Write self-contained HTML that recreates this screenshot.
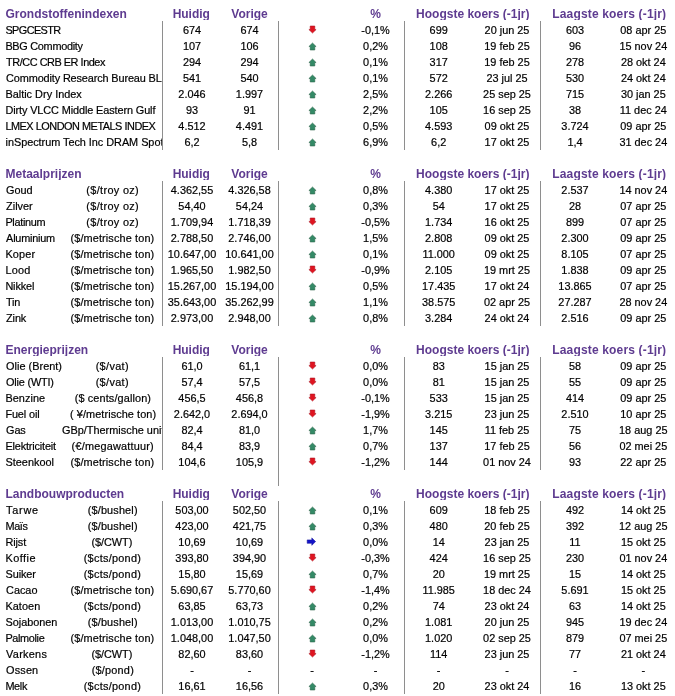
<!DOCTYPE html>
<html><head><meta charset="utf-8"><style>
html,body{margin:0;padding:0;background:#fff;}
body{width:675px;height:696px;position:relative;overflow:hidden;font-family:"Liberation Sans",sans-serif;}
.d,.h{position:absolute;white-space:nowrap;height:16px;line-height:16px;}
.d{font-size:10.9px;color:#000;-webkit-text-stroke:0.2px #000;margin-top:1px}
.h{font-size:12px;font-weight:bold;color:#5e3b90;margin-top:1px;height:14px;overflow:hidden}
.c{text-align:center}
.clip{position:absolute;left:0;width:162px;height:16px;overflow:hidden}
.vl{position:absolute;width:1px;background:#8e8e8e}
.ar{position:absolute}
#w{position:absolute;left:0;top:0;width:675px;height:696px;will-change:transform}
</style></head>
<body><div id="w">
<div class="h" style="left:5.5px;top:5px">Grondstoffenindexen</div>
<div class="h c" style="left:131.30px;top:5px;width:120px">Huidig</div>
<div class="h c" style="left:189.50px;top:5px;width:120px">Vorige</div>
<div class="h c" style="left:315.50px;top:5px;width:120px">%</div>
<div class="h c" style="left:392.80px;top:5px;width:160px">Hoogste koers (-1jr)</div>
<div class="h c" style="left:529.28px;top:5px;width:160px;letter-spacing:0.16px">Laagste koers (-1jr)</div>
<div class="clip" style="top:21px">
<div class="d" style="left:5.46px;top:0;letter-spacing:-0.598px">SPGCESTR</div>
</div>
<div class="d c" style="left:147.00px;top:21px;width:90px">674</div>
<div class="d c" style="left:204.50px;top:21px;width:90px">674</div>
<div class="d c" style="left:330.50px;top:21px;width:90px">-0,1%</div>
<div class="d c" style="left:393.70px;top:21px;width:90px">699</div>
<div class="d c" style="left:462.00px;top:21px;width:90px">20 jun 25</div>
<div class="d c" style="left:530.00px;top:21px;width:90px">603</div>
<div class="d c" style="left:598.30px;top:21px;width:90px">08 apr 25</div>
<svg class="ar" style="left:307.5px;top:25px" width="9" height="9" viewBox="0 0 9 9"><path d="M4.5 8 L8.1 4.6 L6.8 4.6 L6.8 1 L2.2 1 L2.2 4.6 L0.9 4.6 Z" fill="#e01420" stroke="#a8101e" stroke-width="0.55"/></svg>
<div class="clip" style="top:37px">
<div class="d" style="left:5.38px;top:0;letter-spacing:-0.286px">BBG Commodity</div>
</div>
<div class="d c" style="left:147.00px;top:37px;width:90px">107</div>
<div class="d c" style="left:204.50px;top:37px;width:90px">106</div>
<div class="d c" style="left:330.50px;top:37px;width:90px">0,2%</div>
<div class="d c" style="left:393.70px;top:37px;width:90px">108</div>
<div class="d c" style="left:462.00px;top:37px;width:90px">19 feb 25</div>
<div class="d c" style="left:530.00px;top:37px;width:90px">96</div>
<div class="d c" style="left:598.30px;top:37px;width:90px">15 nov 24</div>
<svg class="ar" style="left:307.5px;top:42px" width="9" height="9" viewBox="0 0 9 9"><path d="M4.5 1 L8.1 4.5 L6.8 4.5 L6.8 8 L2.2 8 L2.2 4.5 L0.9 4.5 Z" fill="#338a66" stroke="#2b6248" stroke-width="0.55"/></svg>
<div class="clip" style="top:53px">
<div class="d" style="left:6.10px;top:0;letter-spacing:-0.461px">TR/CC CRB ER Index</div>
</div>
<div class="d c" style="left:147.00px;top:53px;width:90px">294</div>
<div class="d c" style="left:204.50px;top:53px;width:90px">294</div>
<div class="d c" style="left:330.50px;top:53px;width:90px">0,1%</div>
<div class="d c" style="left:393.70px;top:53px;width:90px">317</div>
<div class="d c" style="left:462.00px;top:53px;width:90px">19 feb 25</div>
<div class="d c" style="left:530.00px;top:53px;width:90px">278</div>
<div class="d c" style="left:598.30px;top:53px;width:90px">28 okt 24</div>
<svg class="ar" style="left:307.5px;top:58px" width="9" height="9" viewBox="0 0 9 9"><path d="M4.5 1 L8.1 4.5 L6.8 4.5 L6.8 8 L2.2 8 L2.2 4.5 L0.9 4.5 Z" fill="#338a66" stroke="#2b6248" stroke-width="0.55"/></svg>
<div class="clip" style="top:69px">
<div class="d" style="left:6.10px;top:0;letter-spacing:-0.131px">Commodity Research Bureau BL</div>
</div>
<div class="d c" style="left:147.00px;top:69px;width:90px">541</div>
<div class="d c" style="left:204.50px;top:69px;width:90px">540</div>
<div class="d c" style="left:330.50px;top:69px;width:90px">0,1%</div>
<div class="d c" style="left:393.70px;top:69px;width:90px">572</div>
<div class="d c" style="left:462.00px;top:69px;width:90px">23 jul 25</div>
<div class="d c" style="left:530.00px;top:69px;width:90px">530</div>
<div class="d c" style="left:598.30px;top:69px;width:90px">24 okt 24</div>
<svg class="ar" style="left:307.5px;top:74px" width="9" height="9" viewBox="0 0 9 9"><path d="M4.5 1 L8.1 4.5 L6.8 4.5 L6.8 8 L2.2 8 L2.2 4.5 L0.9 4.5 Z" fill="#338a66" stroke="#2b6248" stroke-width="0.55"/></svg>
<div class="clip" style="top:85px">
<div class="d" style="left:5.38px;top:0;letter-spacing:0.012px">Baltic Dry Index</div>
</div>
<div class="d c" style="left:147.00px;top:85px;width:90px">2.046</div>
<div class="d c" style="left:204.50px;top:85px;width:90px">1.997</div>
<div class="d c" style="left:330.50px;top:85px;width:90px">2,5%</div>
<div class="d c" style="left:393.70px;top:85px;width:90px">2.266</div>
<div class="d c" style="left:462.00px;top:85px;width:90px">25 sep 25</div>
<div class="d c" style="left:530.00px;top:85px;width:90px">715</div>
<div class="d c" style="left:598.30px;top:85px;width:90px">30 jan 25</div>
<svg class="ar" style="left:307.5px;top:90px" width="9" height="9" viewBox="0 0 9 9"><path d="M4.5 1 L8.1 4.5 L6.8 4.5 L6.8 8 L2.2 8 L2.2 4.5 L0.9 4.5 Z" fill="#338a66" stroke="#2b6248" stroke-width="0.55"/></svg>
<div class="clip" style="top:101px">
<div class="d" style="left:5.38px;top:0;letter-spacing:-0.105px">Dirty VLCC Middle Eastern Gulf</div>
</div>
<div class="d c" style="left:147.00px;top:101px;width:90px">93</div>
<div class="d c" style="left:204.50px;top:101px;width:90px">91</div>
<div class="d c" style="left:330.50px;top:101px;width:90px">2,2%</div>
<div class="d c" style="left:393.70px;top:101px;width:90px">105</div>
<div class="d c" style="left:462.00px;top:101px;width:90px">16 sep 25</div>
<div class="d c" style="left:530.00px;top:101px;width:90px">38</div>
<div class="d c" style="left:598.30px;top:101px;width:90px">11 dec 24</div>
<svg class="ar" style="left:307.5px;top:106px" width="9" height="9" viewBox="0 0 9 9"><path d="M4.5 1 L8.1 4.5 L6.8 4.5 L6.8 8 L2.2 8 L2.2 4.5 L0.9 4.5 Z" fill="#338a66" stroke="#2b6248" stroke-width="0.55"/></svg>
<div class="clip" style="top:117px">
<div class="d" style="left:5.38px;top:0;letter-spacing:-0.474px">LMEX LONDON METALS INDEX</div>
</div>
<div class="d c" style="left:147.00px;top:117px;width:90px">4.512</div>
<div class="d c" style="left:204.50px;top:117px;width:90px">4.491</div>
<div class="d c" style="left:330.50px;top:117px;width:90px">0,5%</div>
<div class="d c" style="left:393.70px;top:117px;width:90px">4.593</div>
<div class="d c" style="left:462.00px;top:117px;width:90px">09 okt 25</div>
<div class="d c" style="left:530.00px;top:117px;width:90px">3.724</div>
<div class="d c" style="left:598.30px;top:117px;width:90px">09 apr 25</div>
<svg class="ar" style="left:307.5px;top:122px" width="9" height="9" viewBox="0 0 9 9"><path d="M4.5 1 L8.1 4.5 L6.8 4.5 L6.8 8 L2.2 8 L2.2 4.5 L0.9 4.5 Z" fill="#338a66" stroke="#2b6248" stroke-width="0.55"/></svg>
<div class="clip" style="top:133px">
<div class="d" style="left:5.54px;top:0;letter-spacing:-0.039px">inSpectrum Tech Inc DRAM Spot</div>
</div>
<div class="d c" style="left:147.00px;top:133px;width:90px">6,2</div>
<div class="d c" style="left:204.50px;top:133px;width:90px">5,8</div>
<div class="d c" style="left:330.50px;top:133px;width:90px">6,9%</div>
<div class="d c" style="left:393.70px;top:133px;width:90px">6,2</div>
<div class="d c" style="left:462.00px;top:133px;width:90px">17 okt 25</div>
<div class="d c" style="left:530.00px;top:133px;width:90px">1,4</div>
<div class="d c" style="left:598.30px;top:133px;width:90px">31 dec 24</div>
<svg class="ar" style="left:307.5px;top:138px" width="9" height="9" viewBox="0 0 9 9"><path d="M4.5 1 L8.1 4.5 L6.8 4.5 L6.8 8 L2.2 8 L2.2 4.5 L0.9 4.5 Z" fill="#338a66" stroke="#2b6248" stroke-width="0.55"/></svg>
<div class="vl" style="left:162px;top:21px;height:129px"></div>
<div class="vl" style="left:278px;top:21px;height:129px"></div>
<div class="vl" style="left:404px;top:21px;height:129px"></div>
<div class="vl" style="left:540px;top:21px;height:129px"></div>
<div class="h" style="left:5.5px;top:165px">Metaalprijzen</div>
<div class="h c" style="left:131.30px;top:165px;width:120px">Huidig</div>
<div class="h c" style="left:189.50px;top:165px;width:120px">Vorige</div>
<div class="h c" style="left:315.50px;top:165px;width:120px">%</div>
<div class="h c" style="left:392.80px;top:165px;width:160px">Hoogste koers (-1jr)</div>
<div class="h c" style="left:529.28px;top:165px;width:160px;letter-spacing:0.16px">Laagste koers (-1jr)</div>
<div class="clip" style="top:181px">
<div class="d" style="left:6.10px;top:0;letter-spacing:-0.100px">Goud</div>
<div class="d" style="left:86.36px;top:0;letter-spacing:0.334px">($/troy oz)</div>
</div>
<div class="d c" style="left:147.00px;top:181px;width:90px">4.362,55</div>
<div class="d c" style="left:204.50px;top:181px;width:90px">4.326,58</div>
<div class="d c" style="left:330.50px;top:181px;width:90px">0,8%</div>
<div class="d c" style="left:393.70px;top:181px;width:90px">4.380</div>
<div class="d c" style="left:462.00px;top:181px;width:90px">17 okt 25</div>
<div class="d c" style="left:530.00px;top:181px;width:90px">2.537</div>
<div class="d c" style="left:598.30px;top:181px;width:90px">14 nov 24</div>
<svg class="ar" style="left:307.5px;top:186px" width="9" height="9" viewBox="0 0 9 9"><path d="M4.5 1 L8.1 4.5 L6.8 4.5 L6.8 8 L2.2 8 L2.2 4.5 L0.9 4.5 Z" fill="#338a66" stroke="#2b6248" stroke-width="0.55"/></svg>
<div class="clip" style="top:197px">
<div class="d" style="left:6.10px;top:0;letter-spacing:-0.020px">Zilver</div>
<div class="d" style="left:86.36px;top:0;letter-spacing:0.334px">($/troy oz)</div>
</div>
<div class="d c" style="left:147.00px;top:197px;width:90px">54,40</div>
<div class="d c" style="left:204.50px;top:197px;width:90px">54,24</div>
<div class="d c" style="left:330.50px;top:197px;width:90px">0,3%</div>
<div class="d c" style="left:393.70px;top:197px;width:90px">54</div>
<div class="d c" style="left:462.00px;top:197px;width:90px">17 okt 25</div>
<div class="d c" style="left:530.00px;top:197px;width:90px">28</div>
<div class="d c" style="left:598.30px;top:197px;width:90px">07 apr 25</div>
<svg class="ar" style="left:307.5px;top:202px" width="9" height="9" viewBox="0 0 9 9"><path d="M4.5 1 L8.1 4.5 L6.8 4.5 L6.8 8 L2.2 8 L2.2 4.5 L0.9 4.5 Z" fill="#338a66" stroke="#2b6248" stroke-width="0.55"/></svg>
<div class="clip" style="top:213px">
<div class="d" style="left:5.38px;top:0;letter-spacing:-0.297px">Platinum</div>
<div class="d" style="left:86.36px;top:0;letter-spacing:0.334px">($/troy oz)</div>
</div>
<div class="d c" style="left:147.00px;top:213px;width:90px">1.709,94</div>
<div class="d c" style="left:204.50px;top:213px;width:90px">1.718,39</div>
<div class="d c" style="left:330.50px;top:213px;width:90px">-0,5%</div>
<div class="d c" style="left:393.70px;top:213px;width:90px">1.734</div>
<div class="d c" style="left:462.00px;top:213px;width:90px">16 okt 25</div>
<div class="d c" style="left:530.00px;top:213px;width:90px">899</div>
<div class="d c" style="left:598.30px;top:213px;width:90px">07 apr 25</div>
<svg class="ar" style="left:307.5px;top:217px" width="9" height="9" viewBox="0 0 9 9"><path d="M4.5 8 L8.1 4.6 L6.8 4.6 L6.8 1 L2.2 1 L2.2 4.6 L0.9 4.6 Z" fill="#e01420" stroke="#a8101e" stroke-width="0.55"/></svg>
<div class="clip" style="top:229px">
<div class="d" style="left:6.12px;top:0;letter-spacing:-0.238px">Aluminium</div>
<div class="d" style="left:70.45px;top:0;letter-spacing:0.128px">($/metrische ton)</div>
</div>
<div class="d c" style="left:147.00px;top:229px;width:90px">2.788,50</div>
<div class="d c" style="left:204.50px;top:229px;width:90px">2.746,00</div>
<div class="d c" style="left:330.50px;top:229px;width:90px">1,5%</div>
<div class="d c" style="left:393.70px;top:229px;width:90px">2.808</div>
<div class="d c" style="left:462.00px;top:229px;width:90px">09 okt 25</div>
<div class="d c" style="left:530.00px;top:229px;width:90px">2.300</div>
<div class="d c" style="left:598.30px;top:229px;width:90px">09 apr 25</div>
<svg class="ar" style="left:307.5px;top:234px" width="9" height="9" viewBox="0 0 9 9"><path d="M4.5 1 L8.1 4.5 L6.8 4.5 L6.8 8 L2.2 8 L2.2 4.5 L0.9 4.5 Z" fill="#338a66" stroke="#2b6248" stroke-width="0.55"/></svg>
<div class="clip" style="top:245px">
<div class="d" style="left:5.38px;top:0;letter-spacing:0.143px">Koper</div>
<div class="d" style="left:70.45px;top:0;letter-spacing:0.128px">($/metrische ton)</div>
</div>
<div class="d c" style="left:147.00px;top:245px;width:90px">10.647,00</div>
<div class="d c" style="left:204.50px;top:245px;width:90px">10.641,00</div>
<div class="d c" style="left:330.50px;top:245px;width:90px">0,1%</div>
<div class="d c" style="left:393.70px;top:245px;width:90px">11.000</div>
<div class="d c" style="left:462.00px;top:245px;width:90px">09 okt 25</div>
<div class="d c" style="left:530.00px;top:245px;width:90px">8.105</div>
<div class="d c" style="left:598.30px;top:245px;width:90px">07 apr 25</div>
<svg class="ar" style="left:307.5px;top:250px" width="9" height="9" viewBox="0 0 9 9"><path d="M4.5 1 L8.1 4.5 L6.8 4.5 L6.8 8 L2.2 8 L2.2 4.5 L0.9 4.5 Z" fill="#338a66" stroke="#2b6248" stroke-width="0.55"/></svg>
<div class="clip" style="top:261px">
<div class="d" style="left:5.39px;top:0;letter-spacing:0.270px">Lood</div>
<div class="d" style="left:70.45px;top:0;letter-spacing:0.128px">($/metrische ton)</div>
</div>
<div class="d c" style="left:147.00px;top:261px;width:90px">1.965,50</div>
<div class="d c" style="left:204.50px;top:261px;width:90px">1.982,50</div>
<div class="d c" style="left:330.50px;top:261px;width:90px">-0,9%</div>
<div class="d c" style="left:393.70px;top:261px;width:90px">2.105</div>
<div class="d c" style="left:462.00px;top:261px;width:90px">19 mrt 25</div>
<div class="d c" style="left:530.00px;top:261px;width:90px">1.838</div>
<div class="d c" style="left:598.30px;top:261px;width:90px">09 apr 25</div>
<svg class="ar" style="left:307.5px;top:265px" width="9" height="9" viewBox="0 0 9 9"><path d="M4.5 8 L8.1 4.6 L6.8 4.6 L6.8 1 L2.2 1 L2.2 4.6 L0.9 4.6 Z" fill="#e01420" stroke="#a8101e" stroke-width="0.55"/></svg>
<div class="clip" style="top:277px">
<div class="d" style="left:5.38px;top:0;letter-spacing:-0.123px">Nikkel</div>
<div class="d" style="left:70.45px;top:0;letter-spacing:0.128px">($/metrische ton)</div>
</div>
<div class="d c" style="left:147.00px;top:277px;width:90px">15.267,00</div>
<div class="d c" style="left:204.50px;top:277px;width:90px">15.194,00</div>
<div class="d c" style="left:330.50px;top:277px;width:90px">0,5%</div>
<div class="d c" style="left:393.70px;top:277px;width:90px">17.435</div>
<div class="d c" style="left:462.00px;top:277px;width:90px">17 okt 24</div>
<div class="d c" style="left:530.00px;top:277px;width:90px">13.865</div>
<div class="d c" style="left:598.30px;top:277px;width:90px">07 apr 25</div>
<svg class="ar" style="left:307.5px;top:282px" width="9" height="9" viewBox="0 0 9 9"><path d="M4.5 1 L8.1 4.5 L6.8 4.5 L6.8 8 L2.2 8 L2.2 4.5 L0.9 4.5 Z" fill="#338a66" stroke="#2b6248" stroke-width="0.55"/></svg>
<div class="clip" style="top:293px">
<div class="d" style="left:6.10px;top:0;letter-spacing:-0.288px">Tin</div>
<div class="d" style="left:70.45px;top:0;letter-spacing:0.128px">($/metrische ton)</div>
</div>
<div class="d c" style="left:147.00px;top:293px;width:90px">35.643,00</div>
<div class="d c" style="left:204.50px;top:293px;width:90px">35.262,99</div>
<div class="d c" style="left:330.50px;top:293px;width:90px">1,1%</div>
<div class="d c" style="left:393.70px;top:293px;width:90px">38.575</div>
<div class="d c" style="left:462.00px;top:293px;width:90px">02 apr 25</div>
<div class="d c" style="left:530.00px;top:293px;width:90px">27.287</div>
<div class="d c" style="left:598.30px;top:293px;width:90px">28 nov 24</div>
<svg class="ar" style="left:307.5px;top:298px" width="9" height="9" viewBox="0 0 9 9"><path d="M4.5 1 L8.1 4.5 L6.8 4.5 L6.8 8 L2.2 8 L2.2 4.5 L0.9 4.5 Z" fill="#338a66" stroke="#2b6248" stroke-width="0.55"/></svg>
<div class="clip" style="top:309px">
<div class="d" style="left:6.10px;top:0;letter-spacing:-0.133px">Zink</div>
<div class="d" style="left:70.45px;top:0;letter-spacing:0.128px">($/metrische ton)</div>
</div>
<div class="d c" style="left:147.00px;top:309px;width:90px">2.973,00</div>
<div class="d c" style="left:204.50px;top:309px;width:90px">2.948,00</div>
<div class="d c" style="left:330.50px;top:309px;width:90px">0,8%</div>
<div class="d c" style="left:393.70px;top:309px;width:90px">3.284</div>
<div class="d c" style="left:462.00px;top:309px;width:90px">24 okt 24</div>
<div class="d c" style="left:530.00px;top:309px;width:90px">2.516</div>
<div class="d c" style="left:598.30px;top:309px;width:90px">09 apr 25</div>
<svg class="ar" style="left:307.5px;top:314px" width="9" height="9" viewBox="0 0 9 9"><path d="M4.5 1 L8.1 4.5 L6.8 4.5 L6.8 8 L2.2 8 L2.2 4.5 L0.9 4.5 Z" fill="#338a66" stroke="#2b6248" stroke-width="0.55"/></svg>
<div class="vl" style="left:162px;top:181px;height:145px"></div>
<div class="vl" style="left:278px;top:181px;height:145px"></div>
<div class="vl" style="left:404px;top:181px;height:145px"></div>
<div class="vl" style="left:540px;top:181px;height:145px"></div>
<div class="h" style="left:5.5px;top:341px">Energieprijzen</div>
<div class="h c" style="left:131.30px;top:341px;width:120px">Huidig</div>
<div class="h c" style="left:189.50px;top:341px;width:120px">Vorige</div>
<div class="h c" style="left:315.50px;top:341px;width:120px">%</div>
<div class="h c" style="left:392.80px;top:341px;width:160px">Hoogste koers (-1jr)</div>
<div class="h c" style="left:529.28px;top:341px;width:160px;letter-spacing:0.16px">Laagste koers (-1jr)</div>
<div class="clip" style="top:357px">
<div class="d" style="left:6.10px;top:0;letter-spacing:0.018px">Olie (Brent)</div>
<div class="d" style="left:95.63px;top:0;letter-spacing:0.355px">($/vat)</div>
</div>
<div class="d c" style="left:147.00px;top:357px;width:90px">61,0</div>
<div class="d c" style="left:204.50px;top:357px;width:90px">61,1</div>
<div class="d c" style="left:330.50px;top:357px;width:90px">0,0%</div>
<div class="d c" style="left:393.70px;top:357px;width:90px">83</div>
<div class="d c" style="left:462.00px;top:357px;width:90px">15 jan 25</div>
<div class="d c" style="left:530.00px;top:357px;width:90px">58</div>
<div class="d c" style="left:598.30px;top:357px;width:90px">09 apr 25</div>
<svg class="ar" style="left:307.5px;top:361px" width="9" height="9" viewBox="0 0 9 9"><path d="M4.5 8 L8.1 4.6 L6.8 4.6 L6.8 1 L2.2 1 L2.2 4.6 L0.9 4.6 Z" fill="#e01420" stroke="#a8101e" stroke-width="0.55"/></svg>
<div class="clip" style="top:373px">
<div class="d" style="left:6.10px;top:0;letter-spacing:-0.200px">Olie (WTI)</div>
<div class="d" style="left:95.63px;top:0;letter-spacing:0.355px">($/vat)</div>
</div>
<div class="d c" style="left:147.00px;top:373px;width:90px">57,4</div>
<div class="d c" style="left:204.50px;top:373px;width:90px">57,5</div>
<div class="d c" style="left:330.50px;top:373px;width:90px">0,0%</div>
<div class="d c" style="left:393.70px;top:373px;width:90px">81</div>
<div class="d c" style="left:462.00px;top:373px;width:90px">15 jan 25</div>
<div class="d c" style="left:530.00px;top:373px;width:90px">55</div>
<div class="d c" style="left:598.30px;top:373px;width:90px">09 apr 25</div>
<svg class="ar" style="left:307.5px;top:377px" width="9" height="9" viewBox="0 0 9 9"><path d="M4.5 8 L8.1 4.6 L6.8 4.6 L6.8 1 L2.2 1 L2.2 4.6 L0.9 4.6 Z" fill="#e01420" stroke="#a8101e" stroke-width="0.55"/></svg>
<div class="clip" style="top:389px">
<div class="d" style="left:5.38px;top:0;letter-spacing:0.070px">Benzine</div>
<div class="d" style="left:74.72px;top:0;letter-spacing:0.118px">($ cents/gallon)</div>
</div>
<div class="d c" style="left:147.00px;top:389px;width:90px">456,5</div>
<div class="d c" style="left:204.50px;top:389px;width:90px">456,8</div>
<div class="d c" style="left:330.50px;top:389px;width:90px">-0,1%</div>
<div class="d c" style="left:393.70px;top:389px;width:90px">533</div>
<div class="d c" style="left:462.00px;top:389px;width:90px">15 jan 25</div>
<div class="d c" style="left:530.00px;top:389px;width:90px">414</div>
<div class="d c" style="left:598.30px;top:389px;width:90px">09 apr 25</div>
<svg class="ar" style="left:307.5px;top:393px" width="9" height="9" viewBox="0 0 9 9"><path d="M4.5 8 L8.1 4.6 L6.8 4.6 L6.8 1 L2.2 1 L2.2 4.6 L0.9 4.6 Z" fill="#e01420" stroke="#a8101e" stroke-width="0.55"/></svg>
<div class="clip" style="top:405px">
<div class="d" style="left:5.38px;top:0;letter-spacing:-0.112px">Fuel oil</div>
<div class="d" style="left:70.04px;top:0;letter-spacing:0.074px">( ¥/metrische ton)</div>
</div>
<div class="d c" style="left:147.00px;top:405px;width:90px">2.642,0</div>
<div class="d c" style="left:204.50px;top:405px;width:90px">2.694,0</div>
<div class="d c" style="left:330.50px;top:405px;width:90px">-1,9%</div>
<div class="d c" style="left:393.70px;top:405px;width:90px">3.215</div>
<div class="d c" style="left:462.00px;top:405px;width:90px">23 jun 25</div>
<div class="d c" style="left:530.00px;top:405px;width:90px">2.510</div>
<div class="d c" style="left:598.30px;top:405px;width:90px">10 apr 25</div>
<svg class="ar" style="left:307.5px;top:409px" width="9" height="9" viewBox="0 0 9 9"><path d="M4.5 8 L8.1 4.6 L6.8 4.6 L6.8 1 L2.2 1 L2.2 4.6 L0.9 4.6 Z" fill="#e01420" stroke="#a8101e" stroke-width="0.55"/></svg>
<div class="clip" style="top:421px">
<div class="d" style="left:6.10px;top:0;letter-spacing:-0.150px">Gas</div>
<div class="d" style="left:61.90px;top:0;letter-spacing:0.015px">GBp/Thermische unit</div>
</div>
<div class="d c" style="left:147.00px;top:421px;width:90px">82,4</div>
<div class="d c" style="left:204.50px;top:421px;width:90px">81,0</div>
<div class="d c" style="left:330.50px;top:421px;width:90px">1,7%</div>
<div class="d c" style="left:393.70px;top:421px;width:90px">145</div>
<div class="d c" style="left:462.00px;top:421px;width:90px">11 feb 25</div>
<div class="d c" style="left:530.00px;top:421px;width:90px">75</div>
<div class="d c" style="left:598.30px;top:421px;width:90px">18 aug 25</div>
<svg class="ar" style="left:307.5px;top:426px" width="9" height="9" viewBox="0 0 9 9"><path d="M4.5 1 L8.1 4.5 L6.8 4.5 L6.8 8 L2.2 8 L2.2 4.5 L0.9 4.5 Z" fill="#338a66" stroke="#2b6248" stroke-width="0.55"/></svg>
<div class="clip" style="top:437px">
<div class="d" style="left:5.38px;top:0;letter-spacing:-0.157px">Elektriciteit</div>
<div class="d" style="left:71.62px;top:0;letter-spacing:0.198px">(€/megawattuur)</div>
</div>
<div class="d c" style="left:147.00px;top:437px;width:90px">84,4</div>
<div class="d c" style="left:204.50px;top:437px;width:90px">83,9</div>
<div class="d c" style="left:330.50px;top:437px;width:90px">0,7%</div>
<div class="d c" style="left:393.70px;top:437px;width:90px">137</div>
<div class="d c" style="left:462.00px;top:437px;width:90px">17 feb 25</div>
<div class="d c" style="left:530.00px;top:437px;width:90px">56</div>
<div class="d c" style="left:598.30px;top:437px;width:90px">02 mei 25</div>
<svg class="ar" style="left:307.5px;top:442px" width="9" height="9" viewBox="0 0 9 9"><path d="M4.5 1 L8.1 4.5 L6.8 4.5 L6.8 8 L2.2 8 L2.2 4.5 L0.9 4.5 Z" fill="#338a66" stroke="#2b6248" stroke-width="0.55"/></svg>
<div class="clip" style="top:453px">
<div class="d" style="left:5.47px;top:0;letter-spacing:0.017px">Steenkool</div>
<div class="d" style="left:70.45px;top:0;letter-spacing:0.128px">($/metrische ton)</div>
</div>
<div class="d c" style="left:147.00px;top:453px;width:90px">104,6</div>
<div class="d c" style="left:204.50px;top:453px;width:90px">105,9</div>
<div class="d c" style="left:330.50px;top:453px;width:90px">-1,2%</div>
<div class="d c" style="left:393.70px;top:453px;width:90px">144</div>
<div class="d c" style="left:462.00px;top:453px;width:90px">01 nov 24</div>
<div class="d c" style="left:530.00px;top:453px;width:90px">93</div>
<div class="d c" style="left:598.30px;top:453px;width:90px">22 apr 25</div>
<svg class="ar" style="left:307.5px;top:457px" width="9" height="9" viewBox="0 0 9 9"><path d="M4.5 8 L8.1 4.6 L6.8 4.6 L6.8 1 L2.2 1 L2.2 4.6 L0.9 4.6 Z" fill="#e01420" stroke="#a8101e" stroke-width="0.55"/></svg>
<div class="vl" style="left:162px;top:357px;height:113px"></div>
<div class="vl" style="left:278px;top:357px;height:129px"></div>
<div class="vl" style="left:404px;top:357px;height:113px"></div>
<div class="vl" style="left:540px;top:357px;height:113px"></div>
<div class="h" style="left:5.5px;top:485px">Landbouwproducten</div>
<div class="h c" style="left:131.30px;top:485px;width:120px">Huidig</div>
<div class="h c" style="left:189.50px;top:485px;width:120px">Vorige</div>
<div class="h c" style="left:315.50px;top:485px;width:120px">%</div>
<div class="h c" style="left:392.80px;top:485px;width:160px">Hoogste koers (-1jr)</div>
<div class="h c" style="left:529.28px;top:485px;width:160px;letter-spacing:0.16px">Laagste koers (-1jr)</div>
<div class="clip" style="top:501px">
<div class="d" style="left:6.10px;top:0;letter-spacing:0.725px">Tarwe</div>
<div class="d" style="left:87.72px;top:0;letter-spacing:0.153px">($/bushel)</div>
</div>
<div class="d c" style="left:147.00px;top:501px;width:90px">503,00</div>
<div class="d c" style="left:204.50px;top:501px;width:90px">502,50</div>
<div class="d c" style="left:330.50px;top:501px;width:90px">0,1%</div>
<div class="d c" style="left:393.70px;top:501px;width:90px">609</div>
<div class="d c" style="left:462.00px;top:501px;width:90px">18 feb 25</div>
<div class="d c" style="left:530.00px;top:501px;width:90px">492</div>
<div class="d c" style="left:598.30px;top:501px;width:90px">14 okt 25</div>
<svg class="ar" style="left:307.5px;top:506px" width="9" height="9" viewBox="0 0 9 9"><path d="M4.5 1 L8.1 4.5 L6.8 4.5 L6.8 8 L2.2 8 L2.2 4.5 L0.9 4.5 Z" fill="#338a66" stroke="#2b6248" stroke-width="0.55"/></svg>
<div class="clip" style="top:517px">
<div class="d" style="left:5.38px;top:0;letter-spacing:-0.317px">Maïs</div>
<div class="d" style="left:87.72px;top:0;letter-spacing:0.153px">($/bushel)</div>
</div>
<div class="d c" style="left:147.00px;top:517px;width:90px">423,00</div>
<div class="d c" style="left:204.50px;top:517px;width:90px">421,75</div>
<div class="d c" style="left:330.50px;top:517px;width:90px">0,3%</div>
<div class="d c" style="left:393.70px;top:517px;width:90px">480</div>
<div class="d c" style="left:462.00px;top:517px;width:90px">20 feb 25</div>
<div class="d c" style="left:530.00px;top:517px;width:90px">392</div>
<div class="d c" style="left:598.30px;top:517px;width:90px">12 aug 25</div>
<svg class="ar" style="left:307.5px;top:522px" width="9" height="9" viewBox="0 0 9 9"><path d="M4.5 1 L8.1 4.5 L6.8 4.5 L6.8 8 L2.2 8 L2.2 4.5 L0.9 4.5 Z" fill="#338a66" stroke="#2b6248" stroke-width="0.55"/></svg>
<div class="clip" style="top:533px">
<div class="d" style="left:5.38px;top:0;letter-spacing:-0.080px">Rijst</div>
<div class="d" style="left:91.52px;top:0;letter-spacing:-0.054px">($/CWT)</div>
</div>
<div class="d c" style="left:147.00px;top:533px;width:90px">10,69</div>
<div class="d c" style="left:204.50px;top:533px;width:90px">10,69</div>
<div class="d c" style="left:330.50px;top:533px;width:90px">0,0%</div>
<div class="d c" style="left:393.70px;top:533px;width:90px">14</div>
<div class="d c" style="left:462.00px;top:533px;width:90px">23 jan 25</div>
<div class="d c" style="left:530.00px;top:533px;width:90px">11</div>
<div class="d c" style="left:598.30px;top:533px;width:90px">15 okt 25</div>
<svg class="ar" style="left:306px;top:537px" width="11" height="9" viewBox="0 0 11 9"><path d="M9.6 4.6 L5.8 0.9 L5.8 2.9 L1.2 2.9 L1.2 6.3 L5.8 6.3 L5.8 8.3 Z" fill="#1414c8" stroke="#10109a" stroke-width="0.55"/></svg>
<div class="clip" style="top:549px">
<div class="d" style="left:5.38px;top:0;letter-spacing:0.491px">Koffie</div>
<div class="d" style="left:83.72px;top:0;letter-spacing:0.268px">($cts/pond)</div>
</div>
<div class="d c" style="left:147.00px;top:549px;width:90px">393,80</div>
<div class="d c" style="left:204.50px;top:549px;width:90px">394,90</div>
<div class="d c" style="left:330.50px;top:549px;width:90px">-0,3%</div>
<div class="d c" style="left:393.70px;top:549px;width:90px">424</div>
<div class="d c" style="left:462.00px;top:549px;width:90px">16 sep 25</div>
<div class="d c" style="left:530.00px;top:549px;width:90px">230</div>
<div class="d c" style="left:598.30px;top:549px;width:90px">01 nov 24</div>
<svg class="ar" style="left:307.5px;top:553px" width="9" height="9" viewBox="0 0 9 9"><path d="M4.5 8 L8.1 4.6 L6.8 4.6 L6.8 1 L2.2 1 L2.2 4.6 L0.9 4.6 Z" fill="#e01420" stroke="#a8101e" stroke-width="0.55"/></svg>
<div class="clip" style="top:565px">
<div class="d" style="left:5.46px;top:0;letter-spacing:-0.073px">Suiker</div>
<div class="d" style="left:83.72px;top:0;letter-spacing:0.268px">($cts/pond)</div>
</div>
<div class="d c" style="left:147.00px;top:565px;width:90px">15,80</div>
<div class="d c" style="left:204.50px;top:565px;width:90px">15,69</div>
<div class="d c" style="left:330.50px;top:565px;width:90px">0,7%</div>
<div class="d c" style="left:393.70px;top:565px;width:90px">20</div>
<div class="d c" style="left:462.00px;top:565px;width:90px">19 mrt 25</div>
<div class="d c" style="left:530.00px;top:565px;width:90px">15</div>
<div class="d c" style="left:598.30px;top:565px;width:90px">14 okt 25</div>
<svg class="ar" style="left:307.5px;top:570px" width="9" height="9" viewBox="0 0 9 9"><path d="M4.5 1 L8.1 4.5 L6.8 4.5 L6.8 8 L2.2 8 L2.2 4.5 L0.9 4.5 Z" fill="#338a66" stroke="#2b6248" stroke-width="0.55"/></svg>
<div class="clip" style="top:581px">
<div class="d" style="left:6.10px;top:0;letter-spacing:-0.034px">Cacao</div>
<div class="d" style="left:70.45px;top:0;letter-spacing:0.128px">($/metrische ton)</div>
</div>
<div class="d c" style="left:147.00px;top:581px;width:90px">5.690,67</div>
<div class="d c" style="left:204.50px;top:581px;width:90px">5.770,60</div>
<div class="d c" style="left:330.50px;top:581px;width:90px">-1,4%</div>
<div class="d c" style="left:393.70px;top:581px;width:90px">11.985</div>
<div class="d c" style="left:462.00px;top:581px;width:90px">18 dec 24</div>
<div class="d c" style="left:530.00px;top:581px;width:90px">5.691</div>
<div class="d c" style="left:598.30px;top:581px;width:90px">15 okt 25</div>
<svg class="ar" style="left:307.5px;top:585px" width="9" height="9" viewBox="0 0 9 9"><path d="M4.5 8 L8.1 4.6 L6.8 4.6 L6.8 1 L2.2 1 L2.2 4.6 L0.9 4.6 Z" fill="#e01420" stroke="#a8101e" stroke-width="0.55"/></svg>
<div class="clip" style="top:597px">
<div class="d" style="left:5.38px;top:0;letter-spacing:0.084px">Katoen</div>
<div class="d" style="left:83.72px;top:0;letter-spacing:0.268px">($cts/pond)</div>
</div>
<div class="d c" style="left:147.00px;top:597px;width:90px">63,85</div>
<div class="d c" style="left:204.50px;top:597px;width:90px">63,73</div>
<div class="d c" style="left:330.50px;top:597px;width:90px">0,2%</div>
<div class="d c" style="left:393.70px;top:597px;width:90px">74</div>
<div class="d c" style="left:462.00px;top:597px;width:90px">23 okt 24</div>
<div class="d c" style="left:530.00px;top:597px;width:90px">63</div>
<div class="d c" style="left:598.30px;top:597px;width:90px">14 okt 25</div>
<svg class="ar" style="left:307.5px;top:602px" width="9" height="9" viewBox="0 0 9 9"><path d="M4.5 1 L8.1 4.5 L6.8 4.5 L6.8 8 L2.2 8 L2.2 4.5 L0.9 4.5 Z" fill="#338a66" stroke="#2b6248" stroke-width="0.55"/></svg>
<div class="clip" style="top:613px">
<div class="d" style="left:5.47px;top:0;letter-spacing:-0.020px">Sojabonen</div>
<div class="d" style="left:87.72px;top:0;letter-spacing:0.153px">($/bushel)</div>
</div>
<div class="d c" style="left:147.00px;top:613px;width:90px">1.013,00</div>
<div class="d c" style="left:204.50px;top:613px;width:90px">1.010,75</div>
<div class="d c" style="left:330.50px;top:613px;width:90px">0,2%</div>
<div class="d c" style="left:393.70px;top:613px;width:90px">1.081</div>
<div class="d c" style="left:462.00px;top:613px;width:90px">20 jun 25</div>
<div class="d c" style="left:530.00px;top:613px;width:90px">945</div>
<div class="d c" style="left:598.30px;top:613px;width:90px">19 dec 24</div>
<svg class="ar" style="left:307.5px;top:618px" width="9" height="9" viewBox="0 0 9 9"><path d="M4.5 1 L8.1 4.5 L6.8 4.5 L6.8 8 L2.2 8 L2.2 4.5 L0.9 4.5 Z" fill="#338a66" stroke="#2b6248" stroke-width="0.55"/></svg>
<div class="clip" style="top:629px">
<div class="d" style="left:5.38px;top:0;letter-spacing:-0.349px">Palmolie</div>
<div class="d" style="left:70.45px;top:0;letter-spacing:0.128px">($/metrische ton)</div>
</div>
<div class="d c" style="left:147.00px;top:629px;width:90px">1.048,00</div>
<div class="d c" style="left:204.50px;top:629px;width:90px">1.047,50</div>
<div class="d c" style="left:330.50px;top:629px;width:90px">0,0%</div>
<div class="d c" style="left:393.70px;top:629px;width:90px">1.020</div>
<div class="d c" style="left:462.00px;top:629px;width:90px">02 sep 25</div>
<div class="d c" style="left:530.00px;top:629px;width:90px">879</div>
<div class="d c" style="left:598.30px;top:629px;width:90px">07 mei 25</div>
<svg class="ar" style="left:307.5px;top:634px" width="9" height="9" viewBox="0 0 9 9"><path d="M4.5 1 L8.1 4.5 L6.8 4.5 L6.8 8 L2.2 8 L2.2 4.5 L0.9 4.5 Z" fill="#338a66" stroke="#2b6248" stroke-width="0.55"/></svg>
<div class="clip" style="top:645px">
<div class="d" style="left:6.11px;top:0;letter-spacing:0.265px">Varkens</div>
<div class="d" style="left:91.52px;top:0;letter-spacing:-0.054px">($/CWT)</div>
</div>
<div class="d c" style="left:147.00px;top:645px;width:90px">82,60</div>
<div class="d c" style="left:204.50px;top:645px;width:90px">83,60</div>
<div class="d c" style="left:330.50px;top:645px;width:90px">-1,2%</div>
<div class="d c" style="left:393.70px;top:645px;width:90px">114</div>
<div class="d c" style="left:462.00px;top:645px;width:90px">23 jun 25</div>
<div class="d c" style="left:530.00px;top:645px;width:90px">77</div>
<div class="d c" style="left:598.30px;top:645px;width:90px">21 okt 24</div>
<svg class="ar" style="left:307.5px;top:649px" width="9" height="9" viewBox="0 0 9 9"><path d="M4.5 8 L8.1 4.6 L6.8 4.6 L6.8 1 L2.2 1 L2.2 4.6 L0.9 4.6 Z" fill="#e01420" stroke="#a8101e" stroke-width="0.55"/></svg>
<div class="clip" style="top:661px">
<div class="d" style="left:6.10px;top:0;letter-spacing:0.150px">Ossen</div>
<div class="d" style="left:91.66px;top:0;letter-spacing:0.220px">($/pond)</div>
</div>
<div class="d c" style="left:147.00px;top:661px;width:90px">-</div>
<div class="d c" style="left:204.50px;top:661px;width:90px">-</div>
<div class="d c" style="left:330.50px;top:661px;width:90px">-</div>
<div class="d c" style="left:393.70px;top:661px;width:90px">-</div>
<div class="d c" style="left:462.00px;top:661px;width:90px">-</div>
<div class="d c" style="left:530.00px;top:661px;width:90px">-</div>
<div class="d c" style="left:598.30px;top:661px;width:90px">-</div>
<div class="d c" style="left:297.00px;top:661px;width:30px">-</div>
<div class="clip" style="top:677px">
<div class="d" style="left:5.38px;top:0;letter-spacing:-0.330px">Melk</div>
<div class="d" style="left:83.72px;top:0;letter-spacing:0.268px">($cts/pond)</div>
</div>
<div class="d c" style="left:147.00px;top:677px;width:90px">16,61</div>
<div class="d c" style="left:204.50px;top:677px;width:90px">16,56</div>
<div class="d c" style="left:330.50px;top:677px;width:90px">0,3%</div>
<div class="d c" style="left:393.70px;top:677px;width:90px">20</div>
<div class="d c" style="left:462.00px;top:677px;width:90px">23 okt 24</div>
<div class="d c" style="left:530.00px;top:677px;width:90px">16</div>
<div class="d c" style="left:598.30px;top:677px;width:90px">13 okt 25</div>
<svg class="ar" style="left:307.5px;top:682px" width="9" height="9" viewBox="0 0 9 9"><path d="M4.5 1 L8.1 4.5 L6.8 4.5 L6.8 8 L2.2 8 L2.2 4.5 L0.9 4.5 Z" fill="#338a66" stroke="#2b6248" stroke-width="0.55"/></svg>
<div class="vl" style="left:162px;top:501px;height:193px"></div>
<div class="vl" style="left:278px;top:501px;height:193px"></div>
<div class="vl" style="left:404px;top:501px;height:193px"></div>
<div class="vl" style="left:540px;top:501px;height:193px"></div>
</div></body></html>
